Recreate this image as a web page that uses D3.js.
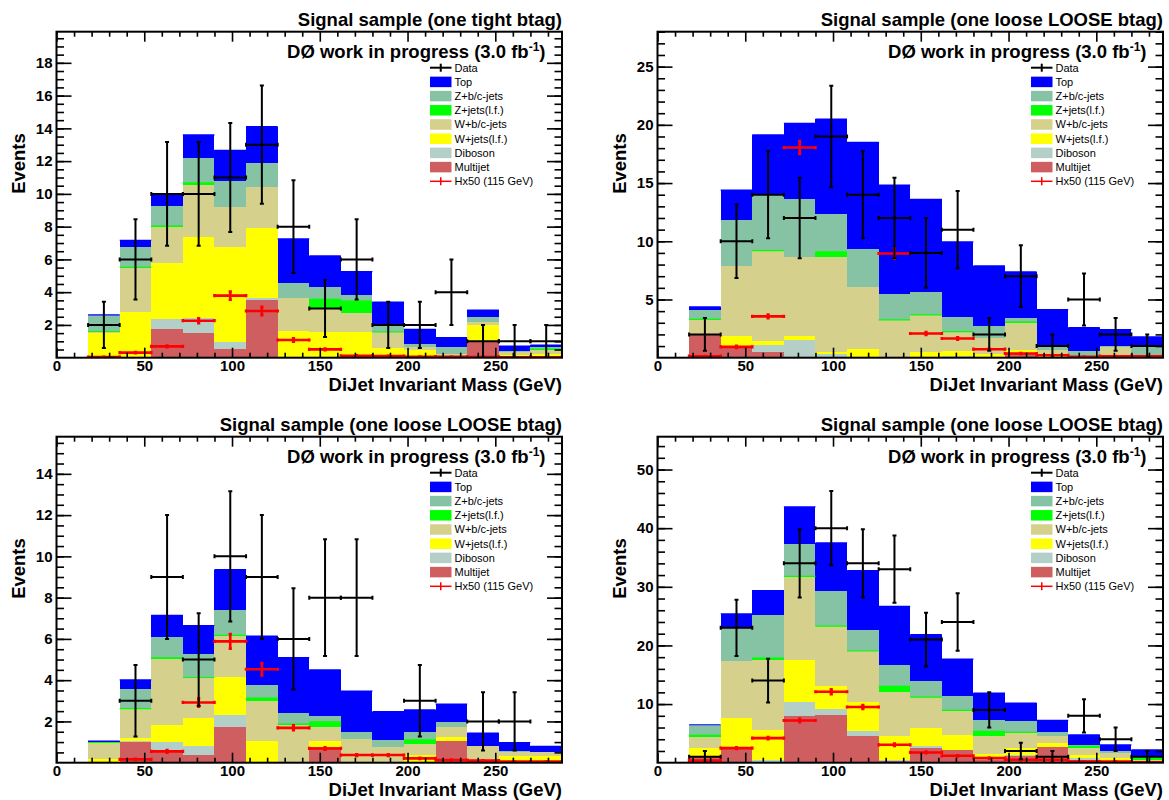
<!DOCTYPE html>
<html><head><meta charset="utf-8">
<script src="https://cdn.jsdelivr.net/npm/d3@7"></script>
<style>
body{margin:0;background:#fff}
svg{display:block}
text{font-family:"Liberation Sans",Arial,Helvetica,sans-serif}
</style>
</head><body>
<svg id="c" width="1169" height="800"></svg>
<script>
// ---------------- DATA ----------------
const binLowEdges = [0,18,36,54,72,90,108,126,144,162,180,198,216,234,252,270];
const binWidth = 18;
const xTickValues = [0,50,100,150,200,250];
const processes = ["Multijet","Diboson","W+jets(l.f.)","W+b/c-jets","Z+jets(l.f.)","Z+b/c-jets","Top"];
const legendLabels = ["Data","Top","Z+b/c-jets","Z+jets(l.f.)","W+b/c-jets","W+jets(l.f.)","Diboson","Multijet","Hx50 (115 GeV)"];
const panelTitles = ["Signal sample (one tight btag)","Signal sample (one loose LOOSE btag)","Signal sample (one loose LOOSE btag)","Signal sample (one loose LOOSE btag)"];

// Panel 1 (one tight btag)
const p1Multijet = [0,0,0,1.75,1.49,0.53,3.52,0,0,0,0,0.05,0,1.04,0,0];
const p1Diboson  = [0,0,0,0.59,0.91,0.45,0.11,0.02,0,0,0,0,0,0,0,0];
const p1WJets    = [0,1.53,2.81,3.46,4.99,5.76,4.31,1.63,1.55,1.59,0.57,0.42,0.1,0.96,0.17,0.2];
const p1WBC      = [0,0.05,2.69,2.2,3.14,2.45,2.47,2.02,1.46,1.12,0.98,0.2,0.12,0.2,0.2,0.3];
const p1ZJets    = [0,0.02,0.02,0.03,0.14,0,0,0,0.55,0.75,0.02,0,0,0,0,0.03];
const p1ZBC      = [0,0.98,1.24,1.23,1.55,1.58,1.46,0.91,0.78,0.37,0.45,0.17,0.45,0.3,0.06,0.1];
const p1Top      = [0,0.03,0.41,0.75,1.38,1.88,2.24,2.67,1.87,1.42,1.37,0.89,0.55,0.41,0.28,0.14];
const p1Data     = [null,2,6,10,10,11,13,8,3,6,2,2,4,1,1,1];
const p1DataErr  = [null,1.41,2.45,3.16,3.16,3.32,3.61,2.83,1.73,2.45,1.41,1.41,2,1,1,1];
const p1Signal   = [null,0.04,0.31,0.69,2.26,3.79,2.85,1.08,0.51,0.12,0.1,0.06,0.05,0.04,0.03,0.03];
const p1SignalErr= [null,0.01,0.03,0.05,0.15,0.25,0.25,0.1,0.05,0.02,0.02,0.01,0.01,0.01,0.01,0.01];
const p1YTicks   = [2,4,6,8,10,12,14,16,18];

// Panel 2 (one loose LOOSE btag, top right)
const p2Multijet = [0,1.95,0.93,0.5,0.05,0,0,0,0,0.05,0.05,0.3,0.07,0,0,0];
const p2Diboson  = [0,0,0,0.6,1.45,0.3,0.1,0,0,0.1,0.05,0.05,0,0,0,0];
const p2WJets    = [0,0,0.92,0.35,0.35,0.2,0.63,0.05,0.45,0.44,0.25,0.29,0.05,0,0.05,0];
const p2WBC      = [0,1.33,6.02,7.73,6.76,8.17,5.36,3.17,3.2,1.63,1.3,2.3,0.5,0.1,0.85,0.1];
const p2ZJets    = [0,0.02,0,0.02,0,0.43,0,0.03,0.02,0.02,0,0.11,0,0,0,0];
const p2ZBC      = [0,0.78,3.95,4.77,4.99,3.24,3.21,2.21,1.99,1.27,1.06,0.32,0.45,0.49,0.09,0.97];
const p2Top      = [0,0.29,2.58,5.16,6.53,8.16,9.2,9.37,7.94,6.45,5.18,4.01,3.07,2.0,1.43,0.72];
const p2Data     = [null,2,10,14,12,19,14,12,9,11,2,7,1,5,2,1];
const p2DataErr  = [null,1.41,3.16,3.74,3.46,4.36,3.74,3.46,3,3.32,1.41,2.65,1,2.24,1.41,1];
const p2Signal   = [null,0.13,0.93,3.55,18.05,null,null,8.95,2.08,1.65,0.73,0.36,0.21,0.07,0.13,0.13]; // bins 5,6 off scale
const p2SignalErr= [null,0.02,0.1,0.15,0.55,null,null,0.45,0.12,0.1,0.05,0.03,0.02,0.01,0.02,0.02];
const p2YTicks   = [5,10,15,20,25];

// Panel 3 (one loose LOOSE btag, bottom left)
const p3Multijet = [0,0,1.02,0.63,0.38,1.73,0,0,0.74,0,0,0,1.06,0,0,0];
const p3Diboson  = [0,0,0.04,0.36,0.44,0.6,0,0,0,0,0,0,0,0,0,0];
const p3WJets    = [0,0.2,0.12,0.83,1.37,1.83,1.06,0.03,0.32,0.03,0.04,0.37,0.17,0.15,0.31,0.31];
const p3WBC      = [0,0.76,1.42,3.23,1.92,1.98,1.94,1.79,0.65,1.12,0.7,0.53,0.48,0.67,0.19,0.22];
const p3ZJets    = [0,0.02,0.02,0.03,0.02,0.03,0.13,0.05,0.27,0,0,0.21,0,0,0,0];
const p3ZBC      = [0,0.02,0.94,1.01,1.12,1.22,0.63,0.53,0.26,0.32,0.37,0.36,0.27,0,0.05,0];
const p3Top      = [0,0.05,0.45,1.05,1.4,1.97,2.38,2.69,2.26,2.0,1.37,1.09,0.86,0.62,0.43,0.26];
const p3Data     = [null,null,3,9,5,10,9,6,8,8,null,3,null,2,2,null];
const p3DataErr  = [null,null,1.73,3,2.24,3.16,3,2.45,2.83,2.83,null,1.73,null,1.41,1.41,null];
const p3Signal   = [null,null,0.16,0.55,2.92,5.88,4.53,1.69,0.69,0.37,0.37,0.21,0.13,0.1,0.05,0.05];
const p3SignalErr= [null,null,0.03,0.06,0.2,0.35,0.3,0.12,0.06,0.04,0.04,0.03,0.02,0.02,0.01,0.01];
const p3YTicks   = [2,4,6,8,10,12,14];

// Panel 4 (one loose LOOSE btag, bottom right)
const p4Multijet = [0,1.1,2.31,0.15,7.89,8.18,4.48,0.3,2.5,2.2,0.4,1.2,2.6,0.5,0.3,0];
const p4Diboson  = [0,0,0,0.35,2.39,1.0,0.85,0.2,0.27,0,0.2,0.15,0.06,0.28,0,0];
const p4WJets    = [0,1.39,5.29,5.12,7.22,3.95,4.96,4.1,3.13,2.56,0.92,1.13,0.68,0.57,0.48,0.1];
const p4WBC      = [0,1.87,9.79,11.84,14.18,10.13,8.71,7.4,5.24,3.98,3.07,2.62,1.25,1.13,0.85,0.4];
const p4ZJets    = [0,0.29,0,0.4,0.1,0.05,0.05,1.02,0.05,0.18,0.74,0.06,0,0.29,0,0.56];
const p4ZBC      = [0,1.72,5.58,7.3,5.59,5.93,3.65,3.58,2.8,2.51,1.88,2.0,0.57,0.29,0.29,0.12];
const p4Top      = [0,0.1,2.43,4.21,6.25,8.25,10.07,10.08,7.85,6.25,4.67,3.01,2.05,1.7,1.13,1.02];
const p4Data     = [null,1,23,14,34,40,34,33,21,24,9,2,1,8,4,1];
const p4DataErr  = [null,1,4.8,3.74,5.83,6.32,5.83,5.74,4.58,4.9,3,1.41,1,2.83,2,1];
const p4Signal   = [null,0.38,2.48,4.19,7.2,12.1,9.5,3.05,1.75,1.18,0.78,0.5,0.5,0.2,0.2,0.05];
const p4SignalErr= [null,0.05,0.15,0.2,0.3,0.4,0.35,0.2,0.15,0.1,0.08,0.06,0.06,0.04,0.04,0.02];
const p4YTicks   = [10,20,30,40,50];

// ---------------- STYLE / LAYOUT ----------------
const processColors = ["#cf5e60","#b3cfc8","#ffff00","#d5d18c","#00ff00","#86c2a4","#0000ff"];
const W = 505.5, H = 326;
const FONT_BIG = 18.5;

const panels = [
  {id:1, left:56.5, top:31.7, ymax:19.9, yMinor:0.5, yTicks:p1YTicks, title:panelTitles[0],
   stack:[p1Multijet,p1Diboson,p1WJets,p1WBC,p1ZJets,p1ZBC,p1Top], data:p1Data, dataErr:p1DataErr, sig:p1Signal, sigErr:p1SignalErr},
  {id:2, left:657.5, top:31.7, ymax:28.0, yMinor:1, yTicks:p2YTicks, title:panelTitles[1],
   stack:[p2Multijet,p2Diboson,p2WJets,p2WBC,p2ZJets,p2ZBC,p2Top], data:p2Data, dataErr:p2DataErr, sig:p2Signal, sigErr:p2SignalErr},
  {id:3, left:56.5, top:436.7, ymax:15.8, yMinor:0.5, yTicks:p3YTicks, title:panelTitles[2],
   stack:[p3Multijet,p3Diboson,p3WJets,p3WBC,p3ZJets,p3ZBC,p3Top], data:p3Data, dataErr:p3DataErr, sig:p3Signal, sigErr:p3SignalErr},
  {id:4, left:657.5, top:436.7, ymax:55.6, yMinor:2, yTicks:p4YTicks, title:panelTitles[3],
   stack:[p4Multijet,p4Diboson,p4WJets,p4WBC,p4ZJets,p4ZBC,p4Top], data:p4Data, dataErr:p4DataErr, sig:p4Signal, sigErr:p4SignalErr}
];

const svg = d3.select("#c");

function crossSegments(x, y, values, errs, cap) {
  const segs = [];
  binLowEdges.forEach((lo, i) => {
    const v = values[i];
    if (v === null || v === undefined) return;
    const e = errs[i] || 0;
    const x0 = x(lo), x1 = x(lo + binWidth), xc = x(lo + binWidth / 2);
    const yv = y(v), yt = y(v + e), yb = y(v - e);
    segs.push([x0, yv, x1, yv]);
    segs.push([x0, yv - cap, x0, yv + cap]);
    segs.push([x1, yv - cap, x1, yv + cap]);
    if (e > 0) {
      segs.push([xc, yt, xc, yb]);
      segs.push([xc - cap, yt, xc + cap, yt]);
      segs.push([xc - cap, yb, xc + cap, yb]);
    }
  });
  return segs;
}

function styleAxis(sel) {
  sel.select(".domain").remove();
  sel.selectAll(".tick line").attr("stroke", "#000").attr("stroke-width", 1.6);
  sel.selectAll(".tick text").attr("font-size", 15).attr("font-weight", "bold").attr("fill", "#000")
    .style("font-family", '"Liberation Sans",Arial,Helvetica,sans-serif');
}

function drawPanel(p) {
  const g = svg.append("g").attr("transform", `translate(${p.left},${p.top})`);
  const x = d3.scaleLinear().domain([0, 288]).range([0, W]);
  const y = d3.scaleLinear().domain([0, p.ymax]).range([H, 0]);
  const clipId = "clip" + p.id;
  g.append("clipPath").attr("id", clipId).append("rect").attr("width", W).attr("height", H);
  const plot = g.append("g").attr("clip-path", `url(#${clipId})`);

  const rows = binLowEdges.map((lo, i) => {
    const r = {lo};
    processes.forEach((k, j) => { r[k] = p.stack[j][i]; });
    return r;
  });
  const series = d3.stack().keys(processes)(rows);
  series.forEach((s, j) => {
    plot.append("g").selectAll("rect").data(s.filter(d => d[1] - d[0] > 0)).join("rect")
      .attr("x", d => x(d.data.lo))
      .attr("width", d => x(d.data.lo + binWidth) - x(d.data.lo))
      .attr("y", d => y(d[1]))
      .attr("height", d => y(d[0]) - y(d[1]))
      .attr("fill", processColors[j])
      .attr("shape-rendering", "crispEdges");
  });
  // thin outlines of Z+jets and Top histograms
  [4, 6].forEach(j => {
    plot.append("g").selectAll("line").data(series[j].filter(d => d[1] - d[0] > 0)).join("line")
      .attr("x1", d => x(d.data.lo)).attr("x2", d => x(d.data.lo + binWidth))
      .attr("y1", d => y(d[1])).attr("y2", d => y(d[1]))
      .attr("stroke", processColors[j]).attr("stroke-width", 1.2);
  });

  // signal (red crosses)
  plot.append("g").selectAll("line").data(crossSegments(x, y, p.sig, p.sigErr, 1.6)).join("line")
    .attr("x1", d => d[0]).attr("y1", d => d[1]).attr("x2", d => d[2]).attr("y2", d => d[3])
    .attr("stroke", "#ff0000").attr("stroke-width", 2.6);
  // data (black crosses)
  plot.append("g").selectAll("line").data(crossSegments(x, y, p.data, p.dataErr, 2)).join("line")
    .attr("x1", d => d[0]).attr("y1", d => d[1]).attr("x2", d => d[2]).attr("y2", d => d[3])
    .attr("stroke", "#000").attr("stroke-width", 2);

  // axes (ticks inside, on all four sides)
  const xMinor = d3.range(1, 29).map(i => i * 10).filter(v => v % 50 !== 0);
  const nMinor = Math.floor(p.ymax / p.yMinor + 1e-9);
  const yMinor = d3.range(1, nMinor + 1).map(i => +(i * p.yMinor).toFixed(3));

  g.append("g").attr("transform", `translate(0,${H})`)
    .call(d3.axisBottom(x).tickValues(xTickValues).tickSize(-10).tickPadding(3).tickFormat(d3.format("d"))).call(styleAxis);
  g.append("g").attr("transform", `translate(0,${H})`)
    .call(d3.axisBottom(x).tickValues(xMinor).tickSize(-5).tickFormat("")).call(styleAxis);
  g.append("g").call(d3.axisTop(x).tickValues(xTickValues).tickSize(-10).tickFormat("")).call(styleAxis);
  g.append("g").call(d3.axisTop(x).tickValues(xMinor).tickSize(-5).tickFormat("")).call(styleAxis);

  g.append("g").call(d3.axisLeft(y).tickValues(p.yTicks).tickSize(-15).tickPadding(4).tickFormat(d3.format("d"))).call(styleAxis);
  g.append("g").call(d3.axisLeft(y).tickValues(yMinor).tickSize(-7.5).tickFormat("")).call(styleAxis);
  g.append("g").attr("transform", `translate(${W},0)`)
    .call(d3.axisRight(y).tickValues(p.yTicks).tickSize(-15).tickFormat("")).call(styleAxis);
  g.append("g").attr("transform", `translate(${W},0)`)
    .call(d3.axisRight(y).tickValues(yMinor).tickSize(-7.5).tickFormat("")).call(styleAxis);

  // frame
  g.append("rect").attr("width", W).attr("height", H).attr("fill", "none")
    .attr("stroke", "#000").attr("stroke-width", 2);

  // title
  g.append("text").attr("x", W).attr("y", -6).attr("text-anchor", "end")
    .attr("font-size", FONT_BIG).attr("font-weight", "bold").text(p.title);
  // DØ label
  const d0 = g.append("text").attr("x", W - 16.5).attr("y", 26.5).attr("text-anchor", "end")
    .attr("font-size", FONT_BIG).attr("font-weight", "bold");
  d0.append("tspan").text("DØ work in progress (3.0 fb");
  d0.append("tspan").attr("font-size", 12).attr("dy", -7).text("-1");
  d0.append("tspan").attr("dy", 7).text(")");

  // axis titles
  g.append("text").attr("x", W).attr("y", H + 33.5).attr("text-anchor", "end")
    .attr("font-size", FONT_BIG).attr("font-weight", "bold").text("DiJet Invariant Mass (GeV)");
  g.append("text").attr("transform", `translate(-32,101.5) rotate(-90)`).attr("text-anchor", "end")
    .attr("font-size", FONT_BIG).attr("font-weight", "bold").text("Events");

  // legend
  const lg = g.append("g");
  legendLabels.forEach((lab, k) => {
    const cy = 36 + k * 14.2;
    const bx = 373.5, bw = 21.5;
    if (k === 0 || k === legendLabels.length - 1) {
      const col = k === 0 ? "#000" : "#ff0000";
      lg.append("line").attr("x1", bx).attr("x2", bx + bw).attr("y1", cy).attr("y2", cy)
        .attr("stroke", col).attr("stroke-width", k === 0 ? 2 : 1.5);
      lg.append("line").attr("x1", bx + bw / 2).attr("x2", bx + bw / 2).attr("y1", cy - 4).attr("y2", cy + 4)
        .attr("stroke", col).attr("stroke-width", k === 0 ? 2 : 1.5);
    } else {
      lg.append("rect").attr("x", bx).attr("y", cy - 5.25).attr("width", bw).attr("height", 10.5)
        .attr("fill", processColors[7 - k]);
    }
    lg.append("text").attr("x", 398).attr("y", cy + 4).attr("font-size", 11).attr("fill", "#000").text(lab);
  });
}

panels.forEach(drawPanel);
</script>
</body></html>
